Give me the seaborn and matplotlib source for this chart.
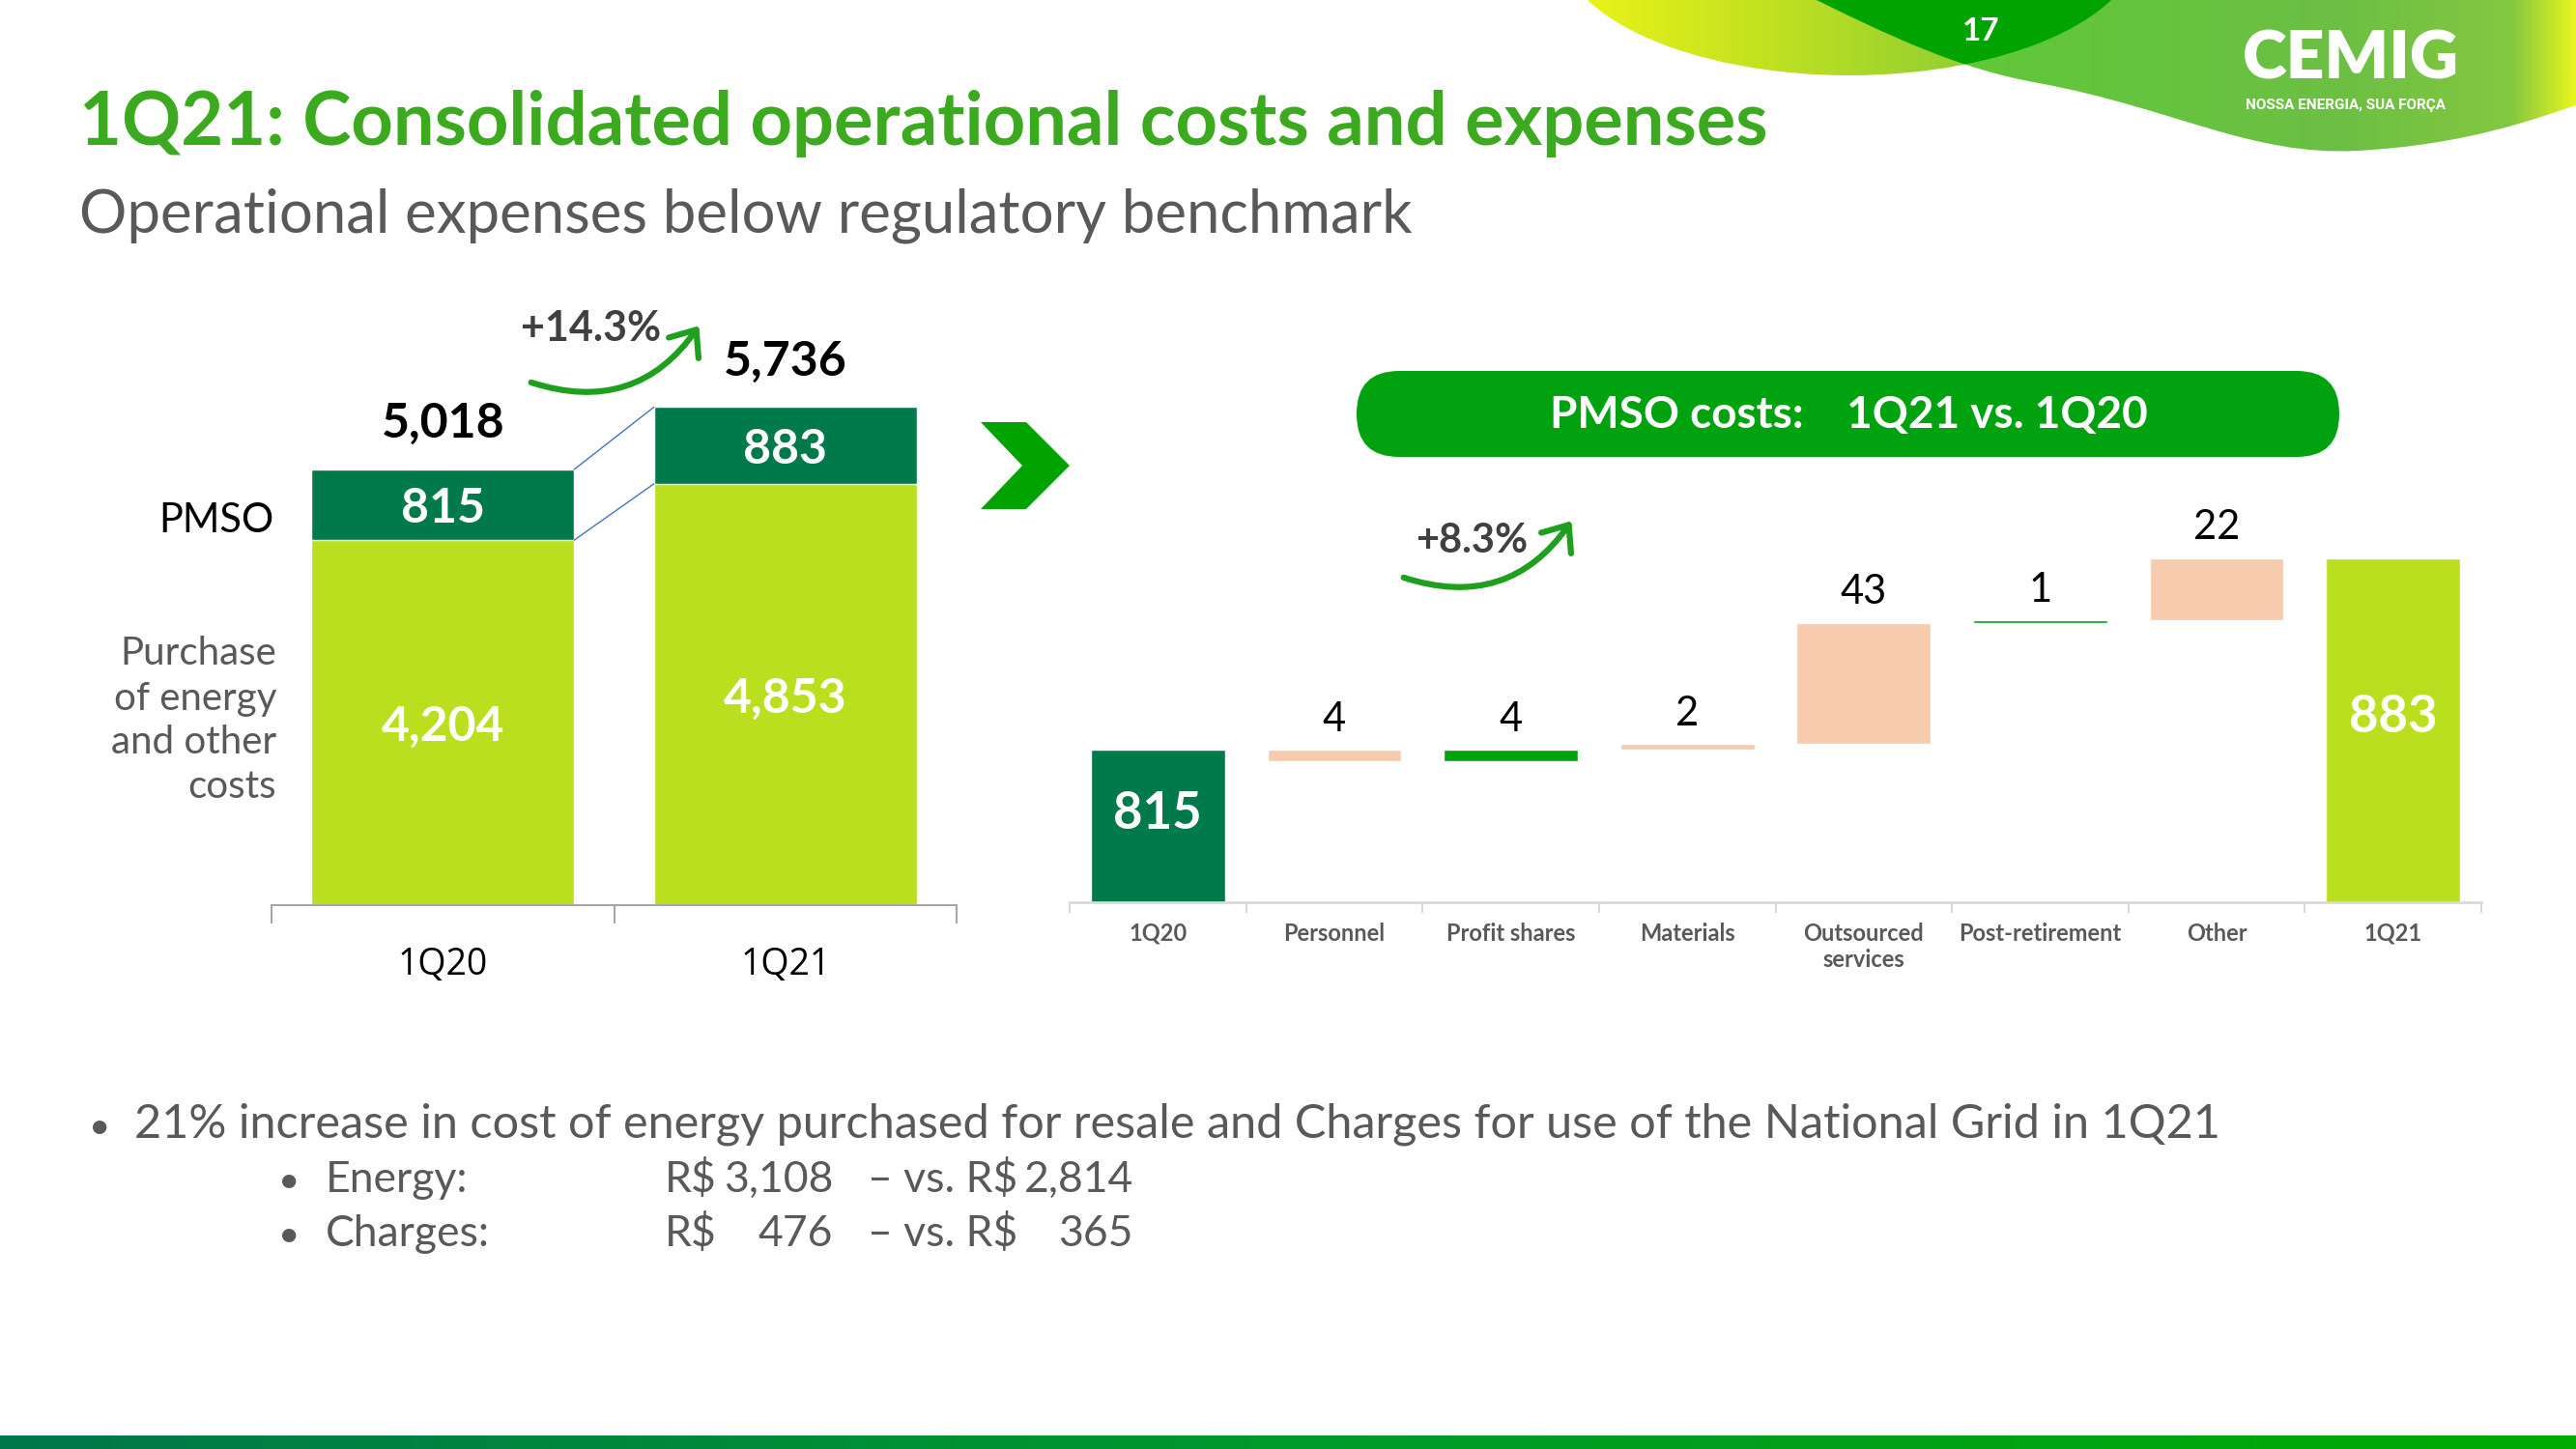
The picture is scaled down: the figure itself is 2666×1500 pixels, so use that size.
import numpy as np
import seaborn as sns
import matplotlib
matplotlib.use("Agg")
import matplotlib.pyplot as plt
from matplotlib.patches import Ellipse, PathPatch, FancyBboxPatch, Polygon, FancyArrowPatch
from matplotlib.path import Path
from matplotlib.colors import LinearSegmentedColormap

# ---- data ----
quarters = ["1Q20", "1Q21"]
pmso = [815, 883]
purchase = [4204, 4853]
totals = [5018, 5736]
growth_total = "+14.3%"

steps = ["1Q20", "Personnel", "Profit shares", "Materials",
         "Outsourced\nservices", "Post-retirement", "Other", "1Q21"]
step_changes = [-4, 4, 2, 43, 1, 22]
growth_pmso = "+8.3%"

energy = [3108, 2814]    # 1Q21, 1Q20
charges = [476, 365]

# ---- style ----
W, H = 2666, 1500
DARK = "#007A4B"
LIME = "#B9DF1F"
PEACH = "#F6CBAE"
GREEN = "#00A20E"
PILL = "#00A30F"
ARROW = "#1EA01E"
TITLE = "#3CAA1E"
GREY = "#595959"
step_colors = [DARK, PEACH, GREEN, PEACH, PEACH, GREEN, PEACH, LIME]

sns.set_style("white")
plt.rcParams["font.family"] = ["Lato", "DejaVu Sans"]

fig = plt.figure(figsize=(W / 100, H / 100), dpi=100)


def box(x0, y0, x1, y1):
    return [x0 / W, 1 - y1 / H, (x1 - x0) / W, (y1 - y0) / H]


# background axes in pixel units (y down) for slide decoration
deco = fig.add_axes([0, 0, 1, 1], zorder=0)
deco.axis("off")


def gradient(stops):
    return LinearSegmentedColormap.from_list("g", stops)


grad = np.linspace(0, 1, 256)[None, :]

# header swooshes
ell_a = Ellipse((1914, -60), 602, 276, facecolor="none", edgecolor="none")
deco.add_patch(ell_a)
im = deco.imshow(grad, extent=(1610, 2220, 80, -200), aspect="auto",
                 cmap=gradient(["#F0F516", "#C4E320", "#96D030", "#76C23E"]))
im.set_clip_path(ell_a)

verts = [(1860, -10), (1960, 40), (2030, 72), (2110, 86),
         (2250, 112), (2330, 162), (2440, 156),
         (2550, 150), (2620, 125), (2680, 104),
         (2680, -10), (1860, -10)]
codes = [Path.MOVETO, Path.CURVE4, Path.CURVE4, Path.CURVE4,
         Path.CURVE4, Path.CURVE4, Path.CURVE4,
         Path.CURVE4, Path.CURVE4, Path.CURVE4,
         Path.LINETO, Path.CLOSEPOLY]
path_b = Path(verts, codes)
clip_b = PathPatch(path_b, facecolor="none", edgecolor="none")
deco.add_patch(clip_b)
im = deco.imshow(grad, extent=(1860, 2666, 170, -10), aspect="auto",
                 cmap=gradient([(0, "#5ACC33"), (0.7, "#6CBF44"),
                                (0.92, "#84C840"), (1, "#E8F520")]))
im.set_clip_path(clip_b)
dark = PathPatch(path_b, facecolor="#00A300", edgecolor="none")
deco.add_patch(dark)
dark.set_clip_path(ell_a)

deco.text(2050, 33, "17", color="white", fontsize=24, fontweight="bold",
          ha="center", va="center")
deco.text(2433, 62, "CEMIG", color="white", fontsize=50, fontweight="heavy",
          ha="center", va="center")
deco.text(2428, 109, "NOSSA ENERGIA, SUA FORÇA", color="white", fontsize=11,
          fontweight="bold", ha="center", va="center", family="Roboto")

# bottom band
deco.imshow(grad, extent=(0, W, H, 1486), aspect="auto",
            cmap=gradient(["#00774A", "#009A2C", "#00AA00"]))

# titles
deco.text(82, 150, "1Q21: Consolidated operational costs and expenses",
          color=TITLE, fontsize=54.6, fontweight="bold", va="baseline")
deco.text(82, 241, "Operational expenses below regulatory benchmark",
          color=GREY, fontsize=44.5, va="baseline")

# ---- left chart: stacked totals ----
ax1 = fig.add_axes(box(281, 300, 990, 937), zorder=1)
ax1.patch.set_alpha(0)
bw1 = 0.767
sns.barplot(x=quarters, y=totals, color=DARK, saturation=1, width=bw1,
            errorbar=None, ax=ax1)
sns.barplot(x=quarters, y=purchase, color=LIME, saturation=1, width=bw1,
            errorbar=None, ax=ax1)
ax1.set_xlim(-0.5, 1.5)
ax1.set_ylim(0, 637 / 0.08988)
for s in ["left", "top", "right"]:
    ax1.spines[s].set_visible(False)
ax1.spines["bottom"].set_color("#A6A6A6")
ax1.spines["bottom"].set_linewidth(1.5)
ax1.set_yticks([])
ax1.set_xticks([-0.5, 0.5, 1.5], minor=True)
ax1.tick_params(axis="x", which="major", bottom=False, length=0, pad=31,
                labelsize=27, labelcolor="black")
ax1.tick_params(axis="x", which="minor", bottom=True, length=14, width=1.5,
                color="#A6A6A6", direction="out")
for lab in ax1.get_xticklabels():
    lab.set_family("Open Sans")
ax1.set_xlabel("")
ax1.set_ylabel("")

for i in range(len(quarters)):
    ax1.annotate(f"{totals[i]:,}", (i, totals[i]), xytext=(0, 18),
                 textcoords="offset points", ha="center", va="bottom",
                 fontsize=36, fontweight="bold", color="black")
    ax1.text(i, purchase[i] + pmso[i] / 2, f"{pmso[i]:,}", ha="center",
             va="center_baseline", fontsize=36, fontweight="bold",
             color="white")
    ax1.text(i, purchase[i] / 2, f"{purchase[i]:,}", ha="center",
             va="center_baseline", fontsize=36, fontweight="bold",
             color="white")
for ys in (totals, purchase):
    ax1.plot([bw1 / 2, 1 - bw1 / 2], ys, color="#4472C4", lw=1)

deco.text(284, 539, "PMSO", fontsize=30, color="black", ha="right",
          va="center")
deco.text(286, 746, "Purchase\nof energy\nand other\ncosts", fontsize=29,
          color=GREY, ha="right", va="center", linespacing=1.3)

deco.add_patch(FancyArrowPatch((547, 395), (725, 335),
                               connectionstyle="arc3,rad=0.38",
                               arrowstyle="->,head_length=0.55,head_width=0.45",
                               mutation_scale=30, lw=4.5, color=ARROW))
deco.text(612, 340, growth_total, fontsize=31, fontweight="bold",
          color="#404040", ha="center", va="center")

# chevron
deco.add_patch(Polygon([(1015, 437), (1062, 437), (1107, 482), (1062, 527),
                        (1015, 527), (1058, 482)], closed=True,
                       facecolor="#00A300", edgecolor="none"))

# ---- right chart: PMSO waterfall ----
lo, hi = [0], [pmso[0]]
run = pmso[0]
for c in step_changes:
    lo.append(min(run, run + c))
    hi.append(max(run, run + c))
    run += c
lo.append(0)
hi.append(pmso[1])

ax2 = fig.add_axes(box(1107, 480, 2568, 934), zorder=1)
ax2.patch.set_alpha(0)
bw2 = 0.76
sns.barplot(x=steps, y=hi, hue=steps, palette=step_colors, saturation=1,
            width=bw2, errorbar=None, legend=False, ax=ax2)
for p in ax2.patches:
    k = int(round(p.get_x() + p.get_width() / 2))
    p.set_y(lo[k])
    p.set_height(hi[k] - lo[k])
y0 = 761
ax2.set_ylim(y0, y0 + 454 / 2.92)
ax2.set_xlim(-0.5, len(steps) - 0.5)
for s in ["left", "top", "right"]:
    ax2.spines[s].set_visible(False)
ax2.spines["bottom"].set_color("#D9D9D9")
ax2.spines["bottom"].set_linewidth(2)
ax2.set_yticks([])
ax2.set_xticks(np.arange(-0.5, len(steps)), minor=True)
ax2.tick_params(axis="x", which="major", bottom=False, length=0, pad=15,
                labelsize=17, labelcolor=GREY)
ax2.tick_params(axis="x", which="minor", bottom=True, length=8, width=1.5,
                color="#D9D9D9", direction="out")
for lab in ax2.get_xticklabels():
    lab.set_fontweight("bold")
ax2.set_xlabel("")
ax2.set_ylabel("")

for k in range(1, len(steps) - 1):
    ax2.annotate(f"{abs(step_changes[k - 1])}", (k, hi[k]), xytext=(0, 9),
                 textcoords="offset points", ha="center", va="bottom",
                 fontsize=30, color="black")
for k, v in ((0, pmso[0]), (len(steps) - 1, pmso[1])):
    ax2.text(k, (y0 + v) / 2 + 6, f"{v}", ha="center", va="center_baseline",
             fontsize=38, fontweight="bold", color="white")

deco.add_patch(FancyBboxPatch((1404, 384), 1017, 89,
                              boxstyle="round,pad=0,rounding_size=44",
                              facecolor=PILL, edgecolor="none"))
deco.text(1913, 430, "PMSO costs:    1Q21 vs. 1Q20", fontsize=33,
          fontweight="bold", color="white", ha="center", va="center")

deco.add_patch(FancyArrowPatch((1450, 597), (1628, 537),
                               connectionstyle="arc3,rad=0.38",
                               arrowstyle="->,head_length=0.55,head_width=0.45",
                               mutation_scale=30, lw=4.5, color=ARROW))
deco.text(1523, 560, growth_pmso, fontsize=30, fontweight="bold",
          color="#404040", ha="center", va="center")

# ---- bullet notes ----
deco.text(92, 1178, "•", fontsize=28, color=GREY, va="baseline")
deco.text(139, 1178, "21% increase in cost of energy purchased for resale and "
          "Charges for use of the National Grid in 1Q21",
          fontsize=35, color=GREY, va="baseline")
sub = 32
for row, (name, vals) in enumerate((("Energy:", energy), ("Charges:", charges))):
    yb = 1234 + 56 * row
    deco.text(288, yb, "•", fontsize=28, color=GREY, va="baseline")
    deco.text(337, yb, name, fontsize=sub, color=GREY, va="baseline")
    deco.text(688, yb, "R$", fontsize=sub, color=GREY, va="baseline")
    deco.text(862, yb, f"{vals[0]:,}", fontsize=sub, color=GREY,
              va="baseline", ha="right")
    deco.text(898, yb, "– vs. R$", fontsize=sub, color=GREY, va="baseline")
    deco.text(1173, yb, f"{vals[1]:,}", fontsize=sub, color=GREY,
              va="baseline", ha="right")

deco.set_xlim(0, W)
deco.set_ylim(H, 0)

fig.savefig("out.png", dpi=100)
